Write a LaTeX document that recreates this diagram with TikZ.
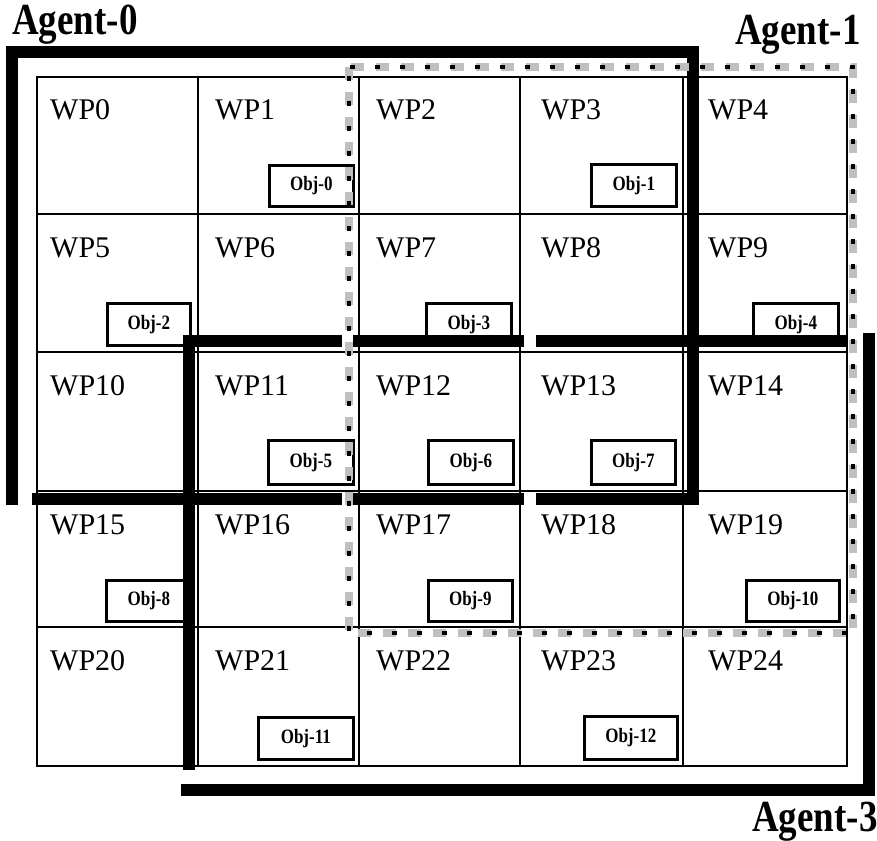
\documentclass[tikz,border=0pt]{standalone}
\usepackage{fontspec}
\setmainfont{Liberation Serif}
\usetikzlibrary{fit,calc}
\begin{document}
\begin{tikzpicture}[x=1pt,y=-1pt,
  cell/.style={draw, line width=1.3pt, inner sep=0pt},
  wplabel/.style={anchor=base west, inner sep=0pt, font=\fontsize{30}{30}\selectfont},
  objbox/.style={draw, line width=2.6pt, fill=white, inner sep=0pt, anchor=north west,
                 font=\bfseries\fontsize{17}{17}\selectfont},
  agentlabel/.style={anchor=base west, inner sep=0pt, font=\bfseries\fontsize{37}{37}\selectfont},
  wall/.style={line width=12pt, line cap=butt, miter limit=10},
  agentone/.style={line width=8pt, draw=black!25, dash pattern=on 13pt off 12pt,
     postaction={draw=black, line width=4.5pt, dash pattern=on 5pt off 20pt, dash phase=-9pt}}]
\useasboundingbox (0,0) rectangle (877,840);
\fill[white] (0,0) rectangle (877,840);

\def\xs{{37,198,359,520,683,847}}
\def\ys{{77,214,352,491,627,766}}
\def\offs{{13,17,17,21,25}}
% cells
\foreach \r in {0,...,4}{
  \foreach \c in {0,...,4}{
    \pgfmathtruncatemacro{\n}{5*\r+\c}
    \pgfmathsetmacro{\xa}{\xs[\c]}
    \pgfmathsetmacro{\xb}{\xs[\c+1]}
    \pgfmathsetmacro{\ya}{\ys[\r]}
    \pgfmathsetmacro{\yb}{\ys[\r+1]}
    \pgfmathsetmacro{\xo}{\xa+\offs[\c]}
    \pgfmathsetmacro{\yo}{\ya+43}
    \node[cell, fit={(\xa,\ya) (\xb,\yb)}] (c\n) {};
    \node[wplabel] (l\n) at (\xo,\yo) {WP\n};
  }
}

% objects
\node[objbox, minimum width=84, minimum height=41] (o0) at (268,164) {\scalebox{1}[1.2]{Obj-0}};
\node[objbox, minimum width=85, minimum height=42] (o1) at (590,163) {\scalebox{1}[1.2]{Obj-1}};
\node[objbox, minimum width=83, minimum height=42] (o2) at (106,302) {\scalebox{1}[1.2]{Obj-2}};
\node[objbox, minimum width=85, minimum height=42] (o3) at (425,302) {\scalebox{1}[1.2]{Obj-3}};
\node[objbox, minimum width=85, minimum height=42] (o4) at (752,302) {\scalebox{1}[1.2]{Obj-4}};
\node[objbox, minimum width=85, minimum height=44] (o5) at (267,439) {\scalebox{1}[1.2]{Obj-5}};
\node[objbox, minimum width=85, minimum height=44] (o6) at (427,439) {\scalebox{1}[1.2]{Obj-6}};
\node[objbox, minimum width=84, minimum height=44] (o7) at (590,439) {\scalebox{1}[1.2]{Obj-7}};
\node[objbox, minimum width=85, minimum height=41] (o8) at (105,579) {\scalebox{1}[1.2]{Obj-8}};
\node[objbox, minimum width=84, minimum height=41] (o9) at (427,579) {\scalebox{1}[1.2]{Obj-9}};
\node[objbox, minimum width=93, minimum height=41] (o10) at (745,579) {\scalebox{1}[1.2]{Obj-10}};
\node[objbox, minimum width=95, minimum height=42] (o11) at (257,716) {\scalebox{1}[1.2]{Obj-11}};
\node[objbox, minimum width=93, minimum height=43] (o12) at (583,715) {\scalebox{1}[1.2]{Obj-12}};

% Agent-0 boundary
\draw[wall] (12,505) -- (12,52) -- (693,52) -- (693,505);
\draw[wall] (32,499) -- (342,499);
\draw[wall] (353,499) -- (524,499);
\draw[wall] (536,499) -- (699,499);

% Agent-3 boundary
\draw[wall] (183,341) -- (342,341);
\draw[wall] (353,341) -- (524,341);
\draw[wall] (536,341) -- (848,341);
\draw[wall] (189,335) -- (189,770);
\draw[wall] (869,333) -- (869,790) -- (181,790);

% Agent-1 boundary
\draw[agentone] (349,67) rectangle (853,633);

% labels
\node[agentlabel] (a0) at (12,35) {\scalebox{1}[1.2]{Agent-0}};
\node[agentlabel] (a1) at (735,45) {\scalebox{1}[1.2]{Agent-1}};
\node[agentlabel] (a3) at (752,831) {\scalebox{1}[1.2]{Agent-3}};
\end{tikzpicture}
\end{document}
